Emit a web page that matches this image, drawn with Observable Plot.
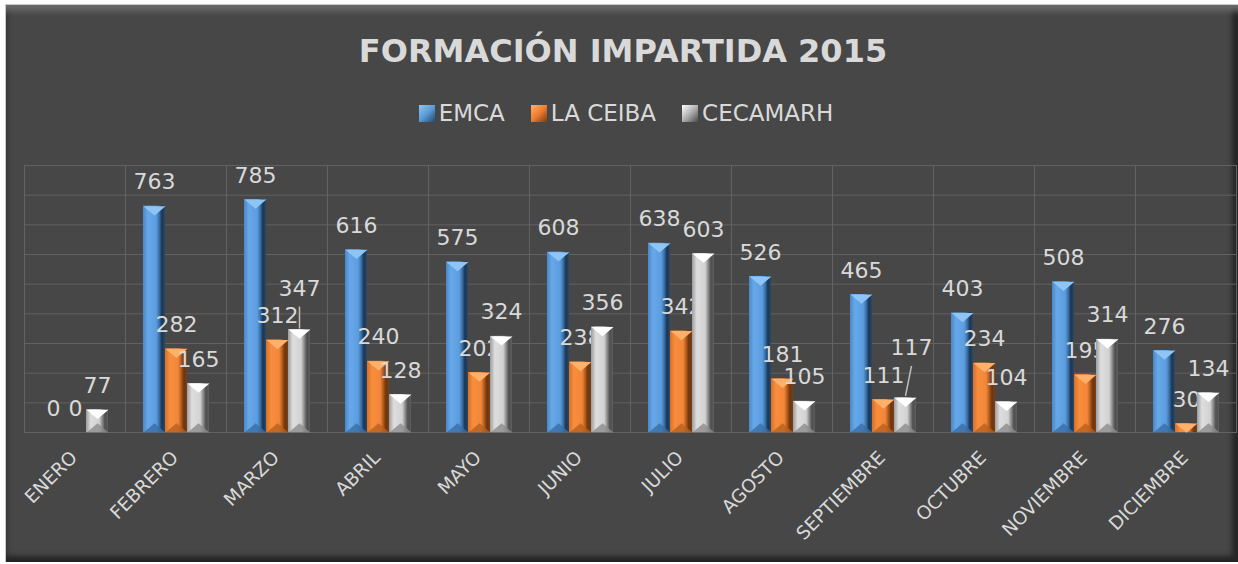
<!DOCTYPE html>
<html><head><meta charset="utf-8">
<script src="https://cdn.jsdelivr.net/npm/d3@7"></script>
<script src="https://cdn.jsdelivr.net/npm/@observablehq/plot@0.6"></script>
<style>
html,body{margin:0;padding:0;background:#fff;width:1238px;height:564px;overflow:hidden;font-family:"DejaVu Sans",sans-serif;}
#frame{position:absolute;left:5px;top:4px;width:1233px;height:558px;background:#474747;box-sizing:border-box;border-left:1px solid #c9c9c9;border-top:1px solid #c9c9c9;
 box-shadow: inset 0 12px 6px -6px #6a6a6a, inset -9px 0 5px -3px #262626, inset 0 -9px 5px -3px #262626, inset 5px 0 4px -2px #3a3a3a;}
#title{position:absolute;left:0;top:31px;width:1246px;text-align:center;font-weight:bold;font-size:32px;color:#d9d9d9;line-height:40px;white-space:nowrap;}
#legend{position:absolute;left:0;top:100px;width:1252px;display:flex;justify-content:center;gap:26px;font-size:23px;color:#d9d9d9;line-height:26px;}
#legend .item{display:flex;align-items:center;}
#legend .sw{width:16px;height:17px;margin-right:4px;}
#chart{position:absolute;left:0;top:140px;}
</style>
</head><body>
<div id="frame"></div>
<div id="title">FORMACIÓN IMPARTIDA 2015</div>
<div id="legend"></div>
<div id="chart"></div>
<script>
const months = ["ENERO","FEBRERO","MARZO","ABRIL","MAYO","JUNIO","JULIO","AGOSTO","SEPTIEMBRE","OCTUBRE","NOVIEMBRE","DICIEMBRE"];
const series = ["EMCA","LA CEIBA","CECAMARH"];
const emca     = [0,763,785,616,575,608,638,526,465,403,508,276];
const laCeiba  = [0,282,312,240,202,238,342,181,111,234,195,30];
const cecamarh = [77,165,347,128,324,356,603,105,117,104,314,134];

const valuesBySeries = {"EMCA": emca, "LA CEIBA": laCeiba, "CECAMARH": cecamarh};
const rows = series.flatMap(s => months.map((m, i) => ({month: m, series: s, value: valuesBySeries[s][i]})));

const styles = {
  "EMCA": {id: "gBlue", stops: [[0,"#4a88c8"],[0.22,"#66a8e8"],[0.6,"#5c9de0"],[0.74,"#3a6fa5"],[0.86,"#1c3450"],[1,"#2a4a6a"]],
           top: "#8ec5f5", bottom: "#3a6ea6", glow: "rgba(91,155,213,0.8)", sw: "linear-gradient(135deg,#8ec5f5 0%,#5b9bd5 50%,#24486e 100%)"},
  "LA CEIBA": {id: "gOrange", stops: [[0,"#d86f25"],[0.22,"#f78e3c"],[0.6,"#f2863a"],[0.74,"#b05a1a"],[0.86,"#6a3510"],[1,"#7a4018"]],
           top: "#ffb06a", bottom: "#b8601e", glow: "rgba(237,125,49,0.75)", sw: "linear-gradient(135deg,#ffb06a 0%,#ed7d31 50%,#7a3c10 100%)"},
  "CECAMARH": {id: "gGray", stops: [[0,"#9c9c9c"],[0.22,"#dedede"],[0.6,"#d2d2d2"],[0.74,"#8a8a8a"],[0.86,"#4e4e4e"],[1,"#5e5e5e"]],
           top: "#ffffff", bottom: "#8c8c8c", glow: "rgba(200,200,200,0.45)", sw: "linear-gradient(135deg,#ffffff 0%,#b0b0b0 50%,#4a4a4a 100%)"}
};

// legend
const legend = document.getElementById("legend");
for (const s of series) {
  const it = document.createElement("div"); it.className = "item";
  const sw = document.createElement("div"); sw.className = "sw"; sw.style.background = styles[s].sw;
  const tx = document.createElement("span"); tx.textContent = s;
  it.appendChild(sw); it.appendChild(tx); legend.appendChild(it);
}

// custom symbols
const topSym = {draw(ctx, size) { const w = Math.sqrt(size); ctx.moveTo(-w/2, 0); ctx.lineTo(w/2, 0); ctx.lineTo(0, w*0.42); ctx.closePath(); }};
const botSym = {draw(ctx, size) { const w = Math.sqrt(size); ctx.moveTo(-w/2, 0); ctx.lineTo(w/2, 0); ctx.lineTo(0, -w*0.42); ctx.closePath(); }};
const leaderV = {draw(ctx) { ctx.moveTo(0, -1); ctx.lineTo(0, -23); }};
const leaderS = {draw(ctx) { ctx.moveTo(0, -2); ctx.lineTo(6, -32); }};

const raised = (r) => r.series === "CECAMARH" && (r.month === "MARZO" || r.month === "SEPTIEMBRE");
const symR = 22 / Math.sqrt(Math.PI);
const labelColor = "#d9d9d9";

const marks = [
  Plot.gridY({ticks: 9, stroke: "#626262", strokeOpacity: 1, strokeWidth: 1}),
  Plot.frame({stroke: "#626262", strokeWidth: 1}),
  Plot.axisFx({anchor: "bottom", tickRotate: -45, tickSize: 0, tickPadding: 22, fontSize: 18.5, fill: labelColor, label: null, dx: -1})
];
for (const s of series) {
  const d = rows.filter(r => r.series === s);
  const st = styles[s];
  marks.push(Plot.barY(d, {fx: "month", x: "series", y: "value", fill: `url(#${st.id})`, ariaLabel: `bar ${s}`}));
  marks.push(Plot.dot(d.filter(r => r.value >= 60), {fx: "month", x: "series", y: () => 0, symbol: botSym, r: symR, fill: st.bottom, fillOpacity: 0.8}));
  marks.push(Plot.dot(d.filter(r => r.value > 0), {fx: "month", x: "series", y: "value", symbol: topSym, r: symR, fill: st.top}));
  marks.push(Plot.text(d.filter(r => !raised(r)), {fx: "month", x: "series", y: "value", text: "value", dy: -24, fontSize: 22, fill: labelColor}));
}
const gray = rows.filter(r => r.series === "CECAMARH");
marks.push(Plot.dot(gray.filter(r => r.month === "MARZO"), {fx: "month", x: "series", y: "value", symbol: leaderV, r: 5, fill: "none", stroke: "#bfbfbf"}));
marks.push(Plot.dot(gray.filter(r => r.month === "SEPTIEMBRE"), {fx: "month", x: "series", y: "value", symbol: leaderS, r: 5, fill: "none", stroke: "#bfbfbf"}));
marks.push(Plot.text(gray.filter(r => r.month === "MARZO"), {fx: "month", x: "series", y: "value", text: "value", dy: -41, fontSize: 22, fill: labelColor}));
marks.push(Plot.text(gray.filter(r => r.month === "SEPTIEMBRE"), {fx: "month", x: "series", y: "value", text: "value", dy: -50, dx: 6, fontSize: 22, fill: labelColor}));

const chart = Plot.plot({
  width: 1238, height: 424,
  marginTop: 25, marginBottom: 132, marginLeft: 22, marginRight: 0,
  style: {fontFamily: "DejaVu Sans", background: "transparent", color: labelColor, overflow: "visible"},
  fx: {domain: months, padding: 0, label: null},
  x: {domain: series, paddingInner: 0, paddingOuter: 0.7, axis: null},
  y: {domain: [0, 900], axis: null},
  marks
});

const svg = d3.select(chart);
const defs = svg.insert("defs", ":first-child");
for (const s of series) {
  const st = styles[s];
  const g = defs.append("linearGradient").attr("id", st.id).attr("x1", 0).attr("x2", 1).attr("y1", 0).attr("y2", 0);
  for (const [o, c] of st.stops) g.append("stop").attr("offset", o).attr("stop-color", c);
  chart.querySelectorAll(`g[aria-label="bar ${s}"]`).forEach(el => el.style.filter = `drop-shadow(0 0 4px ${st.glow})`);
}
document.getElementById("chart").appendChild(chart);
</script>
</body></html>
